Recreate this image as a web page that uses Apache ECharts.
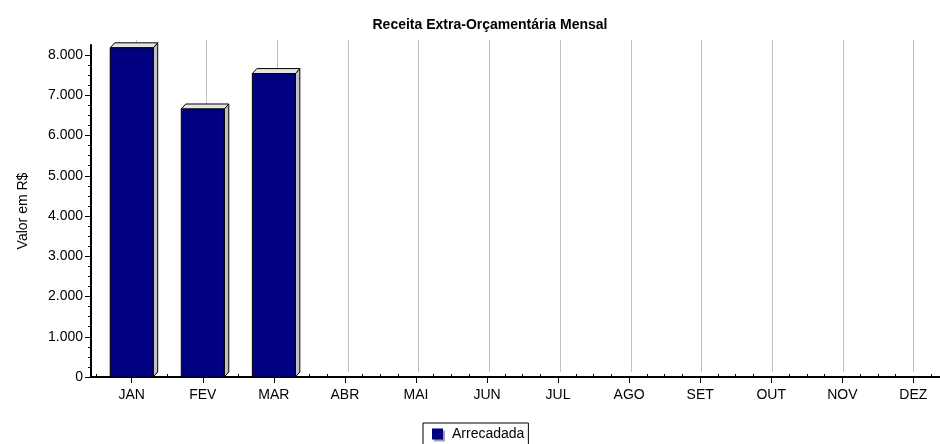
<!DOCTYPE html>
<html><head><meta charset="utf-8">
<script src="https://cdn.jsdelivr.net/npm/echarts@6/dist/echarts.min.js"></script>
<style>html,body{margin:0;padding:0;background:#fff}#c{width:940px;height:444px}</style>
</head><body><div id="c"></div>
<script>
const months = ['JAN','FEV','MAR','ABR','MAI','JUN','JUL','AGO','SET','OUT','NOV','DEZ'];
const arrecadada = [8180, 6660, 7540, null, null, null, null, null, null, null, null, null];
const yTicks = [0,1000,2000,3000,4000,5000,6000,7000,8000];
const seriesName = 'Arrecadada';
const chartTitle = 'Receita Extra-Orçamentária Mensal';
const yName = 'Valor em R$';

const pos = months.map((m,i)=>i+1);
const minorX = [];
for (let k=0.5; k<=12.3; k+=0.25) { if (Math.abs(k-Math.round(k))>1e-6) minorX.push(k); }
const minorY = [];
for (let v=250; v<8250; v+=250) { if (v%1000!==0) minorY.push(v); }
const XMIN = 0.427, XMAX = 12.375, YMAX = 8250;
const FONT = 'Liberation Sans';
const fmtNum = v => String(v).replace(/\B(?=(\d{3})+(?!\d))/g,'.');

const chart = echarts.init(document.getElementById('c'), null, {renderer:'canvas'});
chart.setOption({
  animation:false,
  backgroundColor:'#fff',
  title:{text:chartTitle, left:485, textAlign:'center', top:13,
    textStyle:{fontFamily:FONT, fontSize:14, fontWeight:'bold', color:'#000'}},
  legend:{data:[{name:seriesName, icon:'rect'}], left:423, top:423,
    borderColor:'#000', borderWidth:1, padding:[4,4,10,9], itemWidth:11, itemHeight:11,
    itemStyle:{shadowColor:'#a0a0a0', shadowOffsetX:2, shadowOffsetY:2, shadowBlur:0},
    textStyle:{fontFamily:FONT, fontSize:14, color:'#000', padding:[0,0,0,4]}},
  grid:[
    {left:91, right:0, top:45, bottom:67},
    {left:95.5, right:-4.5, top:40, bottom:72}
  ],
  xAxis:[
    {type:'value', gridIndex:0, min:XMIN, max:XMAX,
      axisLine:{show:true, onZero:false, lineStyle:{color:'#000', width:2}},
      axisTick:{show:true, customValues:pos, length:6, lineStyle:{color:'#000'}},
      axisLabel:{show:true, customValues:pos, margin:11, formatter:v=>months[Math.round(v)-1]||'',
        fontFamily:FONT, fontSize:14, color:'#000'},
      splitLine:{show:false}},
    {type:'value', gridIndex:0, min:XMIN, max:XMAX,
      axisLine:{show:false},
      axisTick:{show:true, customValues:minorX, length:3, lineStyle:{color:'#000'}},
      axisLabel:{show:false}, splitLine:{show:false}},
    {type:'value', gridIndex:1, min:XMIN, max:XMAX,
      axisLine:{show:false},
      axisTick:{show:false, customValues:pos},
      axisLabel:{show:false},
      splitLine:{show:true, lineStyle:{color:'#c0c0c0', width:1}}}
  ],
  yAxis:[
    {type:'value', gridIndex:0, min:0, max:YMAX,
      name:yName, nameLocation:'middle', nameGap:61, nameRotate:90,
      nameTextStyle:{fontFamily:FONT, fontSize:14, color:'#000'},
      axisLine:{show:true, lineStyle:{color:'#000', width:2}},
      axisTick:{show:true, customValues:yTicks, length:6, lineStyle:{color:'#000'}},
      axisLabel:{show:true, customValues:yTicks, margin:8, formatter:fmtNum,
        fontFamily:FONT, fontSize:14, color:'#000'},
      splitLine:{show:false}},
    {type:'value', gridIndex:0, min:0, max:YMAX, position:'left',
      axisLine:{show:false},
      axisTick:{show:true, customValues:minorY, length:3, lineStyle:{color:'#000'}},
      axisLabel:{show:false}, splitLine:{show:false}},
    {type:'value', gridIndex:1, min:0, max:YMAX, show:false}
  ],
  series:[{
    name:seriesName, type:'custom', xAxisIndex:0, yAxisIndex:0,
    itemStyle:{color:'#000080'},
    data: arrecadada.map((v,i)=>[pos[i], v]).filter(d=>d[1]!=null),
    renderItem:function(params, api){
      const x = api.value(0), v = api.value(1);
      const top = api.coord([x, v]);
      const base = api.coord([x, 0]);
      const w = 43, d = 4.5, dy = 5;
      const l = top[0]-w/2, r = top[0]+w/2;
      return {type:'group', children:[
        {type:'polygon', shape:{points:[[r,top[1]],[r+d,top[1]-dy],[r+d,base[1]-dy],[r,base[1]]]},
          style:{fill:'#c0c0c0', stroke:'#000', lineWidth:1}},
        {type:'polygon', shape:{points:[[l,top[1]],[l+d,top[1]-dy],[r+d,top[1]-dy],[r,top[1]]]},
          style:{fill:'#e4e4e4', stroke:'#000', lineWidth:1}},
        {type:'rect', shape:{x:l, y:top[1], width:w, height:base[1]-top[1]},
          style:{fill:'#000080', stroke:'#000', lineWidth:1}}
      ]};
    }
  }]
});
</script></body></html>
